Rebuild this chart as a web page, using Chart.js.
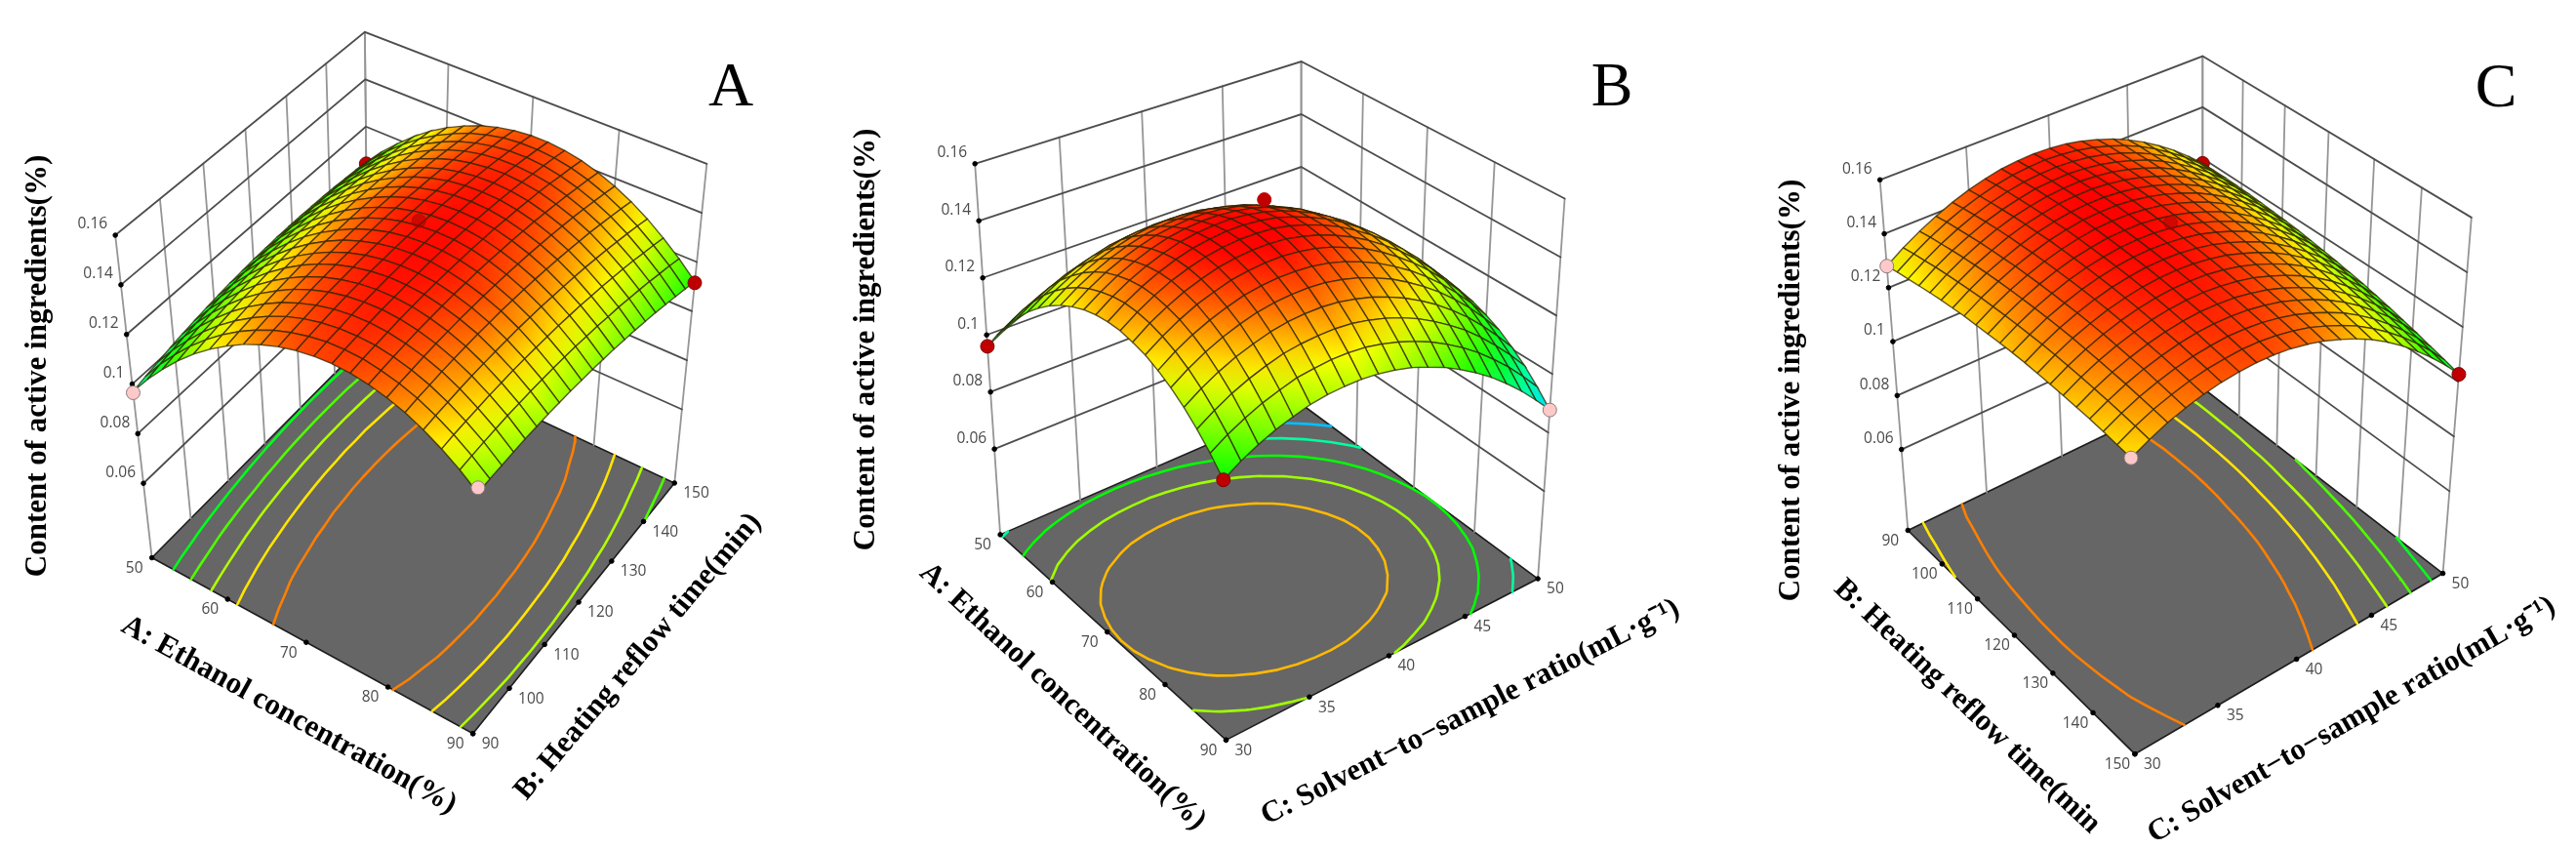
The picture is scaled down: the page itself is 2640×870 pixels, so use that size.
<!DOCTYPE html>
<html>
<head>
<meta charset="utf-8">
<title>Response surfaces</title>
<script src="https://cdn.jsdelivr.net/npm/chart.js@4"></script>
<style>
  html, body { margin: 0; padding: 0; background: #fff; }
  body { width: 2640px; height: 870px; position: relative; overflow: hidden; }
  canvas { position: absolute; top: 0; filter: blur(0.6px); }
</style>
</head>
<body>
<canvas id="panelA" width="880" height="870" style="left:0"></canvas>
<canvas id="panelB" width="880" height="870" style="left:860px"></canvas>
<canvas id="panelC" width="880" height="870" style="left:1760px"></canvas>
<script>
// tick values of the three factors and of the response
const ethanolTicks = [50, 60, 70, 80, 90];
const refluxTicks = [90, 100, 110, 120, 130, 140, 150];
const ratioTicks = [30, 35, 40, 45, 50];
const zTicks = [0.06, 0.08, 0.1, 0.12, 0.14, 0.16];
const zRange = [0.03, 0.16];

// colour key of the surface (Design-Expert style blue -> red)
const colorZ = [0.07, 0.09, 0.11, 0.13, 0.15];
const colorRgb = [[0, 0, 255], [0, 255, 255], [0, 255, 0], [255, 255, 0], [255, 0, 0]];

// contour levels on the floor
const levelsA = [0.108, 0.116, 0.124, 0.132, 0.14];
const levelsB = [0.085, 0.0975, 0.11, 0.1225, 0.1355];
const levelsC = [0.108, 0.116, 0.124, 0.132, 0.14];

// design points: [factor 1, factor 2, response]
const pointsA = [[50, 150, 0.1043], [50, 90, 0.0965], [90, 90, 0.122], [90, 150, 0.1115]];
const centerA = [[70, 120, 0.151]];
const pointsB = [[50, 30, 0.096], [90, 30, 0.11], [90, 50, 0.0877]];
const centerB = [[70, 40, 0.1535]];
const pointsC = [[90, 50, 0.118], [90, 30, 0.128], [150, 30, 0.132], [150, 50, 0.1027]];
const centerC = [[120, 40, 0.151]];

// surface heights in units of 0.0001 %. row = factor 1, column = factor 2
const zA = [
  [970,984,996,1008,1019,1028,1037,1044,1051,1056,1061,1064,1067,1068,1069,1068,1067,1064,1060,1056,1050],
  [1049,1063,1074,1086,1096,1105,1114,1120,1127,1131,1136,1139,1141,1142,1142,1141,1140,1136,1132,1127,1121],
  [1120,1133,1144,1156,1166,1174,1182,1188,1195,1199,1203,1205,1207,1208,1208,1206,1204,1200,1196,1191,1184],
  [1185,1198,1209,1219,1229,1237,1245,1251,1256,1260,1264,1266,1268,1267,1267,1265,1263,1259,1253,1248,1241],
  [1243,1255,1266,1276,1286,1293,1300,1306,1311,1315,1318,1319,1321,1320,1320,1317,1314,1310,1304,1299,1291],
  [1293,1305,1315,1325,1334,1341,1348,1353,1358,1361,1364,1365,1366,1365,1364,1361,1358,1353,1347,1341,1333],
  [1336,1348,1357,1367,1375,1382,1389,1393,1398,1400,1403,1404,1404,1403,1401,1398,1395,1389,1383,1376,1368],
  [1373,1384,1393,1403,1411,1417,1423,1427,1432,1434,1436,1436,1436,1435,1433,1429,1425,1419,1413,1406,1397],
  [1402,1413,1422,1430,1438,1444,1450,1454,1457,1459,1461,1461,1461,1458,1456,1452,1448,1442,1434,1427,1418],
  [1424,1434,1443,1451,1459,1464,1469,1473,1476,1478,1479,1478,1478,1475,1473,1468,1463,1457,1449,1442,1432],
  [1439,1449,1457,1465,1472,1477,1482,1485,1488,1489,1490,1489,1488,1485,1482,1477,1472,1465,1457,1449,1439],
  [1447,1457,1464,1472,1478,1483,1488,1490,1493,1493,1494,1493,1491,1488,1484,1479,1474,1466,1458,1449,1439],
  [1448,1457,1464,1472,1478,1482,1486,1488,1491,1491,1491,1489,1487,1484,1480,1474,1468,1460,1452,1443,1432],
  [1442,1451,1458,1464,1470,1474,1478,1480,1481,1481,1481,1479,1477,1472,1468,1462,1456,1448,1438,1429,1418],
  [1428,1436,1443,1449,1455,1458,1461,1463,1464,1464,1463,1460,1458,1453,1449,1442,1435,1427,1417,1408,1396],
  [1408,1416,1422,1428,1433,1436,1439,1440,1441,1440,1439,1436,1433,1428,1423,1416,1409,1400,1390,1380,1368],
  [1381,1389,1394,1400,1404,1407,1410,1410,1411,1409,1408,1405,1401,1396,1390,1383,1376,1366,1356,1345,1333],
  [1346,1353,1358,1364,1368,1370,1372,1372,1373,1371,1369,1365,1361,1356,1350,1342,1334,1324,1314,1303,1290],
  [1304,1311,1316,1320,1324,1326,1328,1328,1327,1325,1323,1319,1315,1308,1302,1294,1286,1276,1264,1253,1240],
  [1256,1262,1267,1271,1275,1276,1277,1277,1276,1274,1271,1266,1262,1255,1249,1240,1231,1221,1209,1198,1184],
  [1200,1206,1210,1214,1217,1218,1219,1218,1217,1214,1211,1206,1201,1194,1187,1178,1169,1158,1146,1134,1120]
];
const zB = [
  [960,992,1019,1040,1057,1070,1076,1079,1077,1071,1058,1041,1019,993,962,926,885,840,789,734,674],
  [1027,1061,1089,1111,1129,1143,1150,1153,1152,1145,1133,1117,1094,1069,1036,1001,959,913,861,805,745],
  [1087,1122,1150,1174,1193,1207,1215,1219,1219,1212,1200,1184,1161,1135,1103,1067,1025,978,926,868,807],
  [1141,1177,1207,1232,1251,1267,1275,1279,1279,1273,1261,1245,1223,1197,1165,1127,1085,1038,985,927,865],
  [1190,1227,1258,1283,1303,1319,1328,1333,1333,1328,1316,1300,1277,1251,1218,1181,1139,1091,1038,979,916],
  [1231,1269,1300,1327,1347,1364,1373,1378,1379,1374,1363,1346,1323,1298,1265,1228,1185,1137,1084,1025,961],
  [1266,1305,1337,1364,1385,1402,1413,1418,1418,1414,1403,1386,1364,1338,1305,1268,1225,1178,1123,1063,1000],
  [1295,1334,1367,1394,1416,1433,1444,1449,1451,1446,1435,1420,1397,1371,1338,1301,1258,1210,1155,1096,1031],
  [1317,1357,1391,1418,1440,1458,1468,1475,1476,1471,1461,1445,1422,1397,1364,1326,1284,1236,1181,1121,1057],
  [1334,1373,1407,1435,1458,1476,1487,1493,1494,1490,1480,1464,1442,1417,1383,1346,1304,1255,1201,1141,1076],
  [1344,1384,1418,1446,1469,1488,1499,1505,1507,1503,1492,1477,1455,1429,1397,1360,1317,1268,1214,1154,1090],
  [1348,1389,1423,1451,1474,1492,1503,1511,1512,1508,1498,1482,1460,1435,1403,1366,1324,1275,1221,1161,1098],
  [1346,1386,1420,1449,1471,1489,1501,1508,1509,1506,1496,1480,1459,1434,1401,1365,1323,1275,1222,1162,1098],
  [1336,1377,1410,1439,1461,1480,1491,1498,1500,1497,1486,1471,1450,1424,1393,1356,1315,1267,1214,1155,1092],
  [1322,1361,1395,1424,1445,1464,1475,1482,1484,1480,1471,1456,1434,1410,1379,1342,1301,1254,1201,1143,1080],
  [1300,1340,1373,1400,1422,1441,1452,1459,1460,1457,1448,1433,1412,1387,1356,1321,1280,1234,1181,1124,1062],
  [1273,1312,1345,1372,1394,1412,1423,1430,1432,1429,1419,1405,1384,1360,1329,1294,1254,1208,1157,1100,1039],
  [1239,1277,1309,1336,1357,1375,1387,1393,1395,1391,1381,1367,1347,1323,1293,1259,1219,1174,1123,1067,1007],
  [1199,1236,1268,1294,1315,1333,1343,1349,1351,1348,1338,1324,1305,1281,1251,1217,1179,1134,1084,1030,971],
  [1153,1189,1219,1245,1265,1283,1292,1299,1300,1297,1287,1273,1254,1231,1202,1169,1131,1087,1039,985,927],
  [1100,1136,1165,1190,1209,1226,1236,1241,1243,1239,1230,1217,1197,1175,1146,1114,1077,1034,987,934,878]
];
const zC = [
  [1280,1322,1358,1389,1416,1438,1455,1468,1474,1477,1474,1467,1454,1436,1415,1388,1356,1319,1278,1231,1180],
  [1291,1332,1368,1399,1425,1446,1463,1475,1481,1484,1480,1472,1459,1441,1419,1392,1359,1321,1280,1233,1181],
  [1299,1340,1376,1406,1432,1453,1469,1480,1486,1488,1484,1476,1462,1444,1421,1393,1360,1322,1280,1233,1181],
  [1308,1349,1384,1413,1439,1459,1474,1486,1491,1493,1488,1479,1465,1446,1424,1395,1361,1323,1280,1232,1180],
  [1316,1356,1391,1420,1445,1465,1479,1490,1495,1496,1491,1482,1467,1448,1425,1395,1361,1322,1279,1231,1178],
  [1323,1362,1397,1425,1450,1469,1483,1494,1498,1499,1493,1483,1468,1448,1425,1395,1360,1321,1277,1229,1175],
  [1329,1368,1402,1429,1453,1472,1486,1496,1500,1500,1494,1484,1468,1448,1424,1394,1359,1319,1274,1225,1171],
  [1335,1373,1406,1434,1457,1476,1489,1499,1502,1502,1495,1484,1468,1447,1423,1392,1357,1316,1272,1222,1167],
  [1338,1376,1409,1436,1459,1477,1490,1499,1502,1501,1494,1483,1466,1445,1420,1389,1353,1312,1267,1217,1162],
  [1341,1379,1411,1438,1460,1478,1490,1499,1501,1500,1492,1480,1463,1441,1416,1384,1348,1306,1261,1210,1155],
  [1344,1381,1413,1439,1461,1478,1490,1498,1500,1498,1490,1478,1460,1438,1412,1380,1343,1301,1255,1204,1148],
  [1346,1382,1414,1439,1461,1477,1489,1496,1498,1495,1487,1475,1456,1434,1407,1375,1337,1295,1248,1197,1140],
  [1347,1383,1414,1439,1460,1476,1487,1494,1495,1492,1483,1470,1451,1428,1401,1368,1330,1287,1240,1188,1131],
  [1346,1382,1413,1437,1458,1473,1484,1490,1491,1487,1478,1465,1445,1422,1394,1361,1322,1279,1231,1179,1122],
  [1345,1380,1410,1435,1455,1470,1480,1486,1486,1482,1472,1458,1438,1414,1386,1352,1313,1269,1222,1169,1111],
  [1343,1378,1407,1431,1450,1465,1475,1480,1480,1475,1465,1451,1430,1406,1377,1343,1304,1259,1211,1157,1099],
  [1340,1374,1403,1426,1445,1459,1469,1474,1473,1468,1457,1442,1421,1396,1367,1333,1293,1248,1199,1145,1086],
  [1337,1370,1399,1422,1440,1454,1463,1467,1466,1460,1449,1434,1412,1387,1357,1322,1282,1236,1187,1133,1073],
  [1332,1365,1393,1415,1433,1446,1454,1459,1457,1451,1439,1423,1401,1375,1346,1310,1269,1223,1173,1118,1058],
  [1326,1359,1387,1408,1426,1439,1446,1450,1448,1441,1429,1413,1390,1364,1334,1297,1256,1210,1159,1104,1044],
  [1320,1352,1380,1401,1418,1430,1437,1440,1438,1431,1418,1401,1378,1352,1321,1284,1242,1195,1144,1089,1028]
];
const Z_UNIT = 0.0001;

const solventTitle = 'C: Solvent\u2212to\u2212sample ratio(mL\u00b7g\u207b\u00b9)';
const zTitle = 'Content of active ingredients(%)';

// box corners on screen, order: left, front, right, back. floor is at zRange[0], top at zRange[1]
const panels = [
  {
    id: 'panelA', letter: 'A', z: zA, levels: levelsA, points: pointsA, center: centerA,
    centerColor: 'rgba(170,0,0,0.55)', uTicks: ethanolTicks, vTicks: refluxTicks,
    floor: [[150.4, 574.1], [485.5, 757.7], [695.9, 496.1], [376, 346.3]],
    top: [[112.2, 237.4], [493, 395], [729.6, 162.8], [372.7, 25.3]],
    letterPos: [749, 91], zTitlePos: [39, 375],
    uTitle: { text: 'A: Ethanol concentration(%)', pos: [296, 733], rot: 29 },
    vTitle: { text: 'B: Heating reflow time(min)', pos: [654, 673], rot: -49.8 }
  },
  {
    id: 'panelB', letter: 'B', z: zB, levels: levelsB, points: pointsB, center: centerB,
    centerColor: '#c00000', uTicks: ethanolTicks, vTicks: ratioTicks,
    floor: [[160, 550], [395.7, 764.4], [721.2, 596], [474.2, 413.6]],
    top: [[133.6, 162.8], [391.2, 323], [749.2, 199.2], [474.2, 56.1]],
    letterPos: [792, 91], zTitlePos: [28, 348],
    uTitle: { text: 'A: Ethanol concentration(%)', pos: [229, 714], rot: 42.7 },
    vTitle: { text: solventTitle, pos: [647, 730], rot: -27 }
  },
  {
    id: 'panelC', letter: 'C', z: zC, levels: levelsC, points: pointsC, center: centerC,
    centerColor: 'rgba(170,0,0,0.55)', uTicks: refluxTicks, vTicks: ratioTicks,
    floor: [[190.8, 545.5], [427.7, 779], [749.2, 590.4], [498.4, 396.8]],
    top: [[161.6, 179.6], [422.6, 385], [779, 218.9], [498.4, 50.5]],
    letterPos: [798, 92], zTitlePos: [76, 400],
    uTitle: { text: 'B: Heating reflow time(min', pos: [256, 724], rot: 43.5 },
    vTitle: { text: solventTitle, pos: [650, 738], rot: -30 }
  }
];

// maps the unit square onto a screen quad
function quadMap(q) {
  const [[x0, y0], [x1, y1], [x2, y2], [x3, y3]] = q;
  const dx1 = x1 - x2, dx2 = x3 - x2, dx3 = x0 - x1 + x2 - x3;
  const dy1 = y1 - y2, dy2 = y3 - y2, dy3 = y0 - y1 + y2 - y3;
  const den = dx1 * dy2 - dx2 * dy1;
  const g = (dx3 * dy2 - dx2 * dy3) / den;
  const h = (dx1 * dy3 - dx3 * dy1) / den;
  return (s, t) => {
    const w = g * s + h * t + 1;
    return {
      x: ((x1 - x0 + g * x1) * s + (x3 - x0 + h * x3) * t + x0) / w,
      y: ((y1 - y0 + g * y1) * s + (y3 - y0 + h * y3) * t + y0) / w
    };
  };
}

function makeProjector(panel) {
  const floorMap = quadMap(panel.floor);
  const topMap = quadMap(panel.top);
  return (s, t, z) => {
    const w = (z - zRange[0]) / (zRange[1] - zRange[0]);
    const a = floorMap(s, t), b = topMap(s, t);
    return { x: a.x + w * (b.x - a.x), y: a.y + w * (b.y - a.y) };
  };
}

function zColor(z) {
  let k = 0;
  while (k < colorZ.length - 2 && z > colorZ[k + 1]) k++;
  const f = Math.min(1, Math.max(0, (z - colorZ[k]) / (colorZ[k + 1] - colorZ[k])));
  const c = colorRgb[k].map((v, n) => Math.round(v + f * (colorRgb[k + 1][n] - v)));
  return `rgb(${c[0]},${c[1]},${c[2]})`;
}

// cell colour runs from the lowest corner to the highest one
function cellFill(chart, corners) {
  const low = corners.reduce((a, b) => (b.z < a.z ? b : a));
  const high = corners.reduce((a, b) => (b.z > a.z ? b : a));
  const sx = chart.scales.x, sy = chart.scales.y;
  const grad = chart.ctx.createLinearGradient(
    sx.getPixelForValue(low.x), sy.getPixelForValue(low.y),
    sx.getPixelForValue(high.x), sy.getPixelForValue(high.y));
  grad.addColorStop(0, zColor(low.z));
  grad.addColorStop(1, zColor(high.z));
  return grad;
}

function contourSegments(table, level, project) {
  const pts = [];
  const n = table.length - 1;
  const zMin = zRange[0];
  const cross = (i0, j0, i1, j1) => {
    const a = table[i0][j0] * Z_UNIT, b = table[i1][j1] * Z_UNIT;
    if ((a < level) === (b < level)) return null;
    const f = (level - a) / (b - a);
    return project((i0 + f * (i1 - i0)) / n, (j0 + f * (j1 - j0)) / n, zMin);
  };
  for (let i = 0; i < n; i++) {
    for (let j = 0; j < n; j++) {
      const hits = [
        cross(i, j, i + 1, j), cross(i + 1, j, i + 1, j + 1),
        cross(i, j + 1, i + 1, j + 1), cross(i, j, i, j + 1)
      ].filter(Boolean);
      if (hits.length >= 2) pts.push(hits[0], hits[1], { x: NaN, y: NaN });
      if (hits.length === 4) pts.push(hits[2], hits[3], { x: NaN, y: NaN });
    }
  }
  return pts;
}

function buildDatasets(panel, project) {
  const ds = [];
  const uMin = panel.uTicks[0], uMax = panel.uTicks[panel.uTicks.length - 1];
  const vMin = panel.vTicks[0], vMax = panel.vTicks[panel.vTicks.length - 1];
  const sOf = u => (u - uMin) / (uMax - uMin);
  const tOf = v => (v - vMin) / (vMax - vMin);
  const [zLow, zHigh] = zRange;
  const line = (data, color, width) => ds.push({
    data, showLine: true, borderColor: color, borderWidth: width, pointRadius: 0, borderCapStyle: 'round'
  });
  const dots = (data, color, border, radius) => ds.push({
    data, showLine: false, pointRadius: radius, backgroundColor: color, borderColor: border, borderWidth: 1
  });

  // floor
  const f = [project(0, 0, zLow), project(1, 0, zLow), project(1, 1, zLow), project(0, 1, zLow)];
  ds.push({
    data: [...f, f[0]], showLine: true, fill: 'shape', backgroundColor: '#666666',
    borderColor: '#1c1c1c', borderWidth: 1.6, pointRadius: 0
  });

  // walls
  panel.vTicks.forEach(v => line([project(0, tOf(v), zLow), project(0, tOf(v), zHigh)], '#959595', 1.8));
  panel.uTicks.forEach(u => line([project(sOf(u), 1, zLow), project(sOf(u), 1, zHigh)], '#959595', 1.8));
  zTicks.forEach(z => line([project(0, 0, z), project(0, 1, z), project(1, 1, z)], '#4d4d4d', 1.8));

  panel.levels.forEach(level => {
    line(contourSegments(panel.z, level, project), zColor(level), 2.6);
  });

  // axis tick marks
  const marks = [];
  zTicks.forEach(z => marks.push(project(0, 0, z)));
  panel.uTicks.forEach(u => marks.push(project(sOf(u), 0, zLow)));
  panel.vTicks.forEach(v => marks.push(project(1, tOf(v), zLow)));
  dots(marks, '#000', '#000', 2.3);

  const pointOf = p => project(sOf(p[0]), tOf(p[1]), p[2]);
  const isPink = (panel.id === 'panelB') ? (p => p[1] === vMax) : (p => p[1] === vMin);

  // back corner design point goes behind the surface
  panel.points.filter(p => p[0] === uMin && p[1] === vMax).forEach(p => {
    dots([pointOf(p)], '#c00000', '#7a0000', 7);
  });

  // surface, far cells first
  const n = panel.z.length - 1;
  for (let i = 0; i < n; i++) {
    for (let j = n - 1; j >= 0; j--) {
      const corners = [[i, j], [i + 1, j], [i + 1, j + 1], [i, j + 1]].map(c => {
        const z = panel.z[c[0]][c[1]] * Z_UNIT;
        return { ...project(c[0] / n, c[1] / n, z), z };
      });
      ds.push({
        data: [...corners, corners[0]], showLine: true, fill: 'shape', cellCorners: corners,
        backgroundColor: zColor(corners[0].z),
        borderColor: 'rgba(45,35,0,0.75)', borderWidth: 1.4, pointRadius: 0
      });
    }
  }

  panel.points.filter(p => !(p[0] === uMin && p[1] === vMax)).forEach(p => {
    if (isPink(p)) dots([pointOf(p)], '#ffc9c9', '#8a7a7a', 7);
    else dots([pointOf(p)], '#c00000', '#7a0000', 7);
  });
  panel.center.forEach(p => dots([pointOf(p)], panel.centerColor, panel.centerColor, 7));

  // chart.js paints the lowest order last
  ds.forEach((d, k) => { d.order = -k; d.clip = false; });
  return ds;
}

function rotatedText(ctx, text, x, y, deg, font) {
  ctx.save();
  ctx.translate(x, y);
  ctx.rotate(deg * Math.PI / 180);
  ctx.font = font;
  ctx.fillStyle = '#000';
  ctx.textAlign = 'center';
  ctx.textBaseline = 'middle';
  ctx.fillText(text, 0, 0);
  ctx.restore();
}

// tick labels and titles
function textPlugin(panel, project) {
  return {
    id: 'panelText',
    afterDraw(chart) {
      const ctx = chart.ctx;
      const sx = chart.scales.x, sy = chart.scales.y;
      const uMin = panel.uTicks[0], uMax = panel.uTicks[panel.uTicks.length - 1];
      const vMin = panel.vTicks[0], vMax = panel.vTicks[panel.vTicks.length - 1];
      const put = (text, p, dx, dy, align) => {
        ctx.textAlign = align;
        ctx.fillText(text, sx.getPixelForValue(p.x) + dx, sy.getPixelForValue(p.y) + dy);
      };
      ctx.save();
      ctx.font = '15.5px "Open Sans"';
      ctx.fillStyle = '#4a4a4a';
      ctx.textBaseline = 'middle';
      zTicks.forEach(z => put(String(z), project(0, 0, z), -8, -11, 'right'));
      panel.uTicks.forEach(u => put(String(u), project((u - uMin) / (uMax - uMin), 0, zRange[0]), -18, 11, 'center'));
      panel.vTicks.forEach(v => put(String(v), project(1, (v - vMin) / (vMax - vMin), zRange[0]), 9, 11, 'left'));
      ctx.restore();

      const titleFont = 'bold 31px "Liberation Serif"';
      rotatedText(ctx, zTitle, panel.zTitlePos[0], panel.zTitlePos[1], -90, titleFont);
      rotatedText(ctx, panel.uTitle.text, panel.uTitle.pos[0], panel.uTitle.pos[1], panel.uTitle.rot, titleFont);
      rotatedText(ctx, panel.vTitle.text, panel.vTitle.pos[0], panel.vTitle.pos[1], panel.vTitle.rot, titleFont);
      rotatedText(ctx, panel.letter, panel.letterPos[0], panel.letterPos[1], 0, '64px "Liberation Serif"');
    }
  };
}

panels.forEach(panel => {
  const project = makeProjector(panel);
  const chart = new Chart(document.getElementById(panel.id), {
    type: 'scatter',
    data: { datasets: buildDatasets(panel, project) },
    options: {
      responsive: false,
      animation: false,
      events: [],
      devicePixelRatio: 1,
      layout: { padding: 0 },
      plugins: { legend: { display: false }, tooltip: { enabled: false }, title: { display: false } },
      scales: {
        x: { type: 'linear', display: false, min: 0, max: 880 },
        y: { type: 'linear', display: false, min: 0, max: 870, reverse: true }
      }
    },
    plugins: [textPlugin(panel, project)]
  });
  // the gradients need the scales to be laid out first
  chart.data.datasets.forEach(d => {
    if (d.cellCorners) d.backgroundColor = cellFill(chart, d.cellCorners);
  });
  chart.update('none');
});
</script>
</body>
</html>
